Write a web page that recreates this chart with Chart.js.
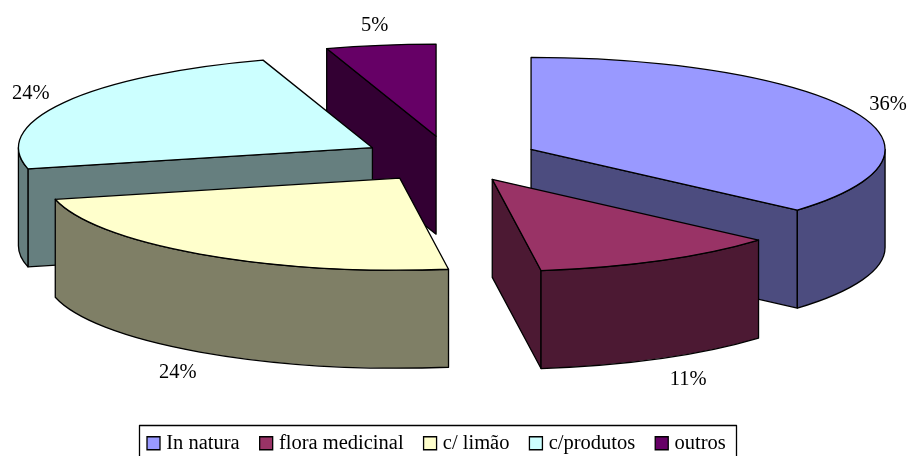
<!DOCTYPE html>
<html>
<head>
<meta charset="utf-8">
<script src="https://cdn.jsdelivr.net/npm/chart.js@4/dist/chart.umd.min.js"></script>
<style>
body { margin: 0; background: #fff; }
canvas { display: block; }
</style>
</head>
<body>
<canvas id="pieCanvas" width="908" height="456"></canvas>

<script>
var categories = ["In natura", "flora medicinal", "c/ limão", "c/produtos", "outros"];
var shares = [36.45, 11.35, 23.5, 23.7, 5.0];
var topColors = ["#9999FF", "#993366", "#FFFFCC", "#CCFFFF", "#660066"];
var sideColors = ["#4C4C7F", "#4C1933", "#7F7F66", "#667F7F", "#330033"];
var paintOrder = [4, 3, 0, 2, 1];

// look of the fake 3D pie
var pieX = 450, pieY = 159;
var squash = 0.26;
var depth = 98;
var explode = 89;
var labelRxBack = 392, labelRxFront = 402, labelRy = 114;
var fontName = "'Liberation Serif', 'Times New Roman', serif";
var fontSize = 20.5;

function wall(ctx, color, draw) {
	ctx.beginPath();
	draw();
	ctx.closePath();
	ctx.fillStyle = color;
	ctx.fill();
	ctx.stroke();
}

var pie3d = {
	id: "pie3d",
	afterLayout: function(chart) {
		// legend sits partly below the bottom of the page
		chart.legend.left = 127;
		chart.legend.top = 409;
	},
	beforeDatasetsDraw: function(chart) {
		var ctx = chart.ctx;
		var arcs = chart.getDatasetMeta(0).data;
		ctx.lineWidth = 1.3;
		ctx.strokeStyle = "#000";
		ctx.lineJoin = "round";

		paintOrder.forEach(function(i) {
			var a = arcs[i];
			var mid = (a.startAngle + a.endAngle) / 2;
			var cx = pieX + Math.cos(mid) * explode;
			var cy = pieY + Math.sin(mid) * explode * squash;
			var rx = a.outerRadius, ry = rx * squash;
			var sx = cx + Math.cos(a.startAngle) * rx, sy = cy + Math.sin(a.startAngle) * ry;
			var ex = cx + Math.cos(a.endAngle) * rx, ey = cy + Math.sin(a.endAngle) * ry;

			// radial walls, only the ones turned to the viewer
			if (sx < cx) {
				wall(ctx, sideColors[i], function() {
					ctx.moveTo(cx, cy); ctx.lineTo(sx, sy);
					ctx.lineTo(sx, sy + depth); ctx.lineTo(cx, cy + depth);
				});
			}
			if (cx < ex) {
				wall(ctx, sideColors[i], function() {
					ctx.moveTo(cx, cy); ctx.lineTo(ex, ey);
					ctx.lineTo(ex, ey + depth); ctx.lineTo(cx, cy + depth);
				});
			}

			// outer wall, front half of the ellipse only
			var from = Math.max(a.startAngle, 0), to = Math.min(a.endAngle, Math.PI);
			if (from < to) {
				wall(ctx, sideColors[i], function() {
					ctx.ellipse(cx, cy, rx, ry, 0, from, to);
					ctx.ellipse(cx, cy + depth, rx, ry, 0, to, from, true);
				});
			}

			// top face is the library's own arc, squashed
			ctx.save();
			ctx.translate(cx, cy);
			ctx.scale(1, squash);
			ctx.translate(-a.x, -a.y);
			a.draw(ctx);
			ctx.restore();

			ctx.beginPath();
			ctx.moveTo(cx, cy);
			ctx.ellipse(cx, cy, rx, ry, 0, a.startAngle, a.endAngle);
			ctx.closePath();
			ctx.stroke();
		});

		ctx.fillStyle = "#000";
		ctx.font = fontSize + "px " + fontName;
		ctx.textAlign = "center";
		ctx.textBaseline = "middle";
		arcs.forEach(function(a, i) {
			var mid = (a.startAngle + a.endAngle) / 2;
			var front = Math.sin(mid) > 0;
			var x = pieX + Math.cos(mid) * (explode + (front ? labelRxFront : labelRxBack));
			var y = pieY + Math.sin(mid) * (explode * squash + labelRy) + 2;
			if (front) {
				x += 5;
				y += depth;
			}
			ctx.fillText(Math.round(shares[i]) + "%", x, y);
		});
		return false;
	},
	afterDraw: function(chart) {
		var ctx = chart.ctx;
		ctx.save();
		ctx.lineWidth = 1.3;
		ctx.strokeStyle = "#000";
		ctx.strokeRect(139.5, 425.5, 597, 40);
		ctx.restore();
	}
};

new Chart("pieCanvas", {
	type: "pie",
	data: {
		labels: categories,
		datasets: [{
			data: shares,
			backgroundColor: topColors,
			borderWidth: 0,
			radius: 354
		}]
	},
	options: {
		responsive: false,
		animation: false,
		plugins: {
			tooltip: { enabled: false },
			legend: {
				position: "bottom",
				align: "start",
				labels: {
					color: "#000",
					font: { family: fontName, size: fontSize },
					usePointStyle: true,
					pointStyle: "rect",
					boxWidth: 5,
					boxHeight: 13,
					padding: 24,
					generateLabels: function(chart) {
						return categories.map(function(name, i) {
							return {
								text: name,
								fillStyle: topColors[i],
								strokeStyle: "#000",
								lineWidth: 1.3,
								pointStyle: "rect",
								index: i
							};
						});
					}
				}
			}
		}
	},
	plugins: [pie3d]
});
</script>
</body>
</html>
